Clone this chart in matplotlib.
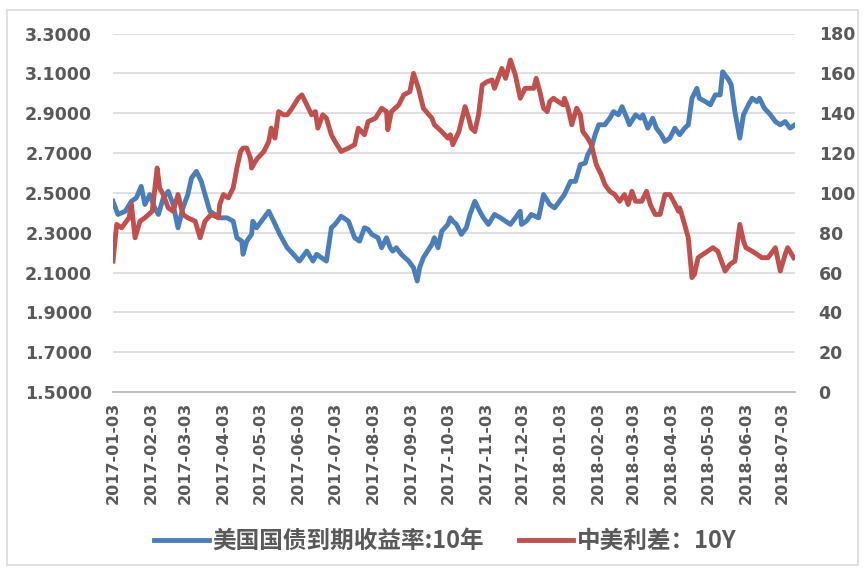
import matplotlib
matplotlib.use("Agg")
import matplotlib.pyplot as plt
from matplotlib.lines import Line2D
from matplotlib.patches import Rectangle
import pandas as pd

plt.rcParams['font.family'] = ['DejaVu Sans']

start = pd.Timestamp('2017-01-03')

# US 10Y treasury yield (%) : days since 2017-01-03 and values
us_days = [0, 4, 10, 15, 19, 23, 26, 30, 34, 37, 41, 45, 49, 53, 57, 61, 64, 68, 72, 75, 79, 83,
           87, 93, 98, 101, 105, 106, 109, 113, 114, 117, 121, 127, 131, 136, 142, 147, 152, 158, 163, 166, 174, 178,
           181, 186, 192, 197, 201, 205, 208, 211, 216, 219, 223, 226, 228, 231, 235, 241, 245, 248, 250, 253, 260, 262, 265, 268, 273,
           275, 277, 280, 284, 288, 291, 295, 299, 302, 306, 311, 316, 320, 324, 328, 332, 333, 337, 341, 347, 351, 356, 360, 364,
           368, 373, 377, 381, 385, 387, 390, 393, 396, 401, 405, 408, 412, 415, 419, 421, 426, 430, 432, 436, 440, 443, 447, 450, 454, 458,
           462, 466, 469, 472, 476, 478, 483, 487, 491, 495, 497, 502, 504, 507, 511, 514, 518, 521, 525, 527, 531, 536, 540, 544, 548, 552, 556]
us10y = [2.458, 2.392, 2.408, 2.458, 2.475, 2.533, 2.442, 2.492, 2.425, 2.392, 2.475, 2.508, 2.442, 2.325, 2.425, 2.492, 2.575, 2.608, 2.558, 2.492, 2.408, 2.392,
         2.375, 2.375, 2.358, 2.275, 2.258, 2.192, 2.258, 2.292, 2.358, 2.325, 2.358, 2.408, 2.358, 2.292, 2.225, 2.192, 2.158, 2.208, 2.158, 2.192, 2.158, 2.325,
         2.342, 2.383, 2.358, 2.275, 2.258, 2.325, 2.317, 2.292, 2.275, 2.225, 2.275, 2.225, 2.208, 2.225, 2.192, 2.158, 2.125, 2.058, 2.125, 2.175, 2.242, 2.275, 2.225, 2.308, 2.342,
         2.375, 2.358, 2.342, 2.292, 2.325, 2.392, 2.458, 2.408, 2.375, 2.342, 2.392, 2.375, 2.358, 2.342, 2.375, 2.408, 2.342, 2.358, 2.392, 2.375, 2.492, 2.442, 2.425, 2.458,
         2.492, 2.558, 2.558, 2.642, 2.650, 2.692, 2.725, 2.792, 2.842, 2.842, 2.875, 2.908, 2.892, 2.933, 2.875, 2.842, 2.892, 2.875, 2.892, 2.825, 2.875, 2.825, 2.792, 2.758, 2.775, 2.825,
         2.792, 2.825, 2.842, 2.975, 3.025, 2.975, 2.958, 2.942, 2.992, 2.992, 3.108, 3.067, 3.042, 2.908, 2.775, 2.892, 2.942, 2.975, 2.958, 2.975, 2.925, 2.892, 2.858, 2.842, 2.858, 2.825, 2.842]

# China-US 10Y spread (bp)
sp_days = [0, 3, 7, 13, 15, 18, 22, 26, 32, 36, 38, 41, 45, 49, 53, 57, 61, 67, 71, 75, 80, 86,
           87, 90, 94, 98, 101, 104, 106, 109, 112, 113, 116, 118, 123, 127, 129, 132, 135, 139, 142, 146, 151, 154, 158, 162, 165, 167, 171, 174, 178,
           181, 186, 192, 197, 200, 205, 208, 214, 219, 223, 224, 227, 233, 237, 242, 245, 249, 253, 260, 262, 268, 273,
           275, 277, 282, 284, 287, 290, 292, 295, 298, 301, 305, 309, 311, 314, 317, 320, 324, 328, 332, 336, 343, 345, 348, 351, 354, 356, 359, 363, 367,
           368, 371, 374, 378, 381, 383, 387, 390, 394, 398, 401, 405, 409, 413, 417, 420, 423, 426, 431, 435, 438, 442, 446, 450, 454, 457, 461,
           462, 466, 469, 472, 474, 477, 481, 485, 489, 493, 496, 499, 503, 507, 511, 514, 516, 521, 525, 529, 534, 540, 544, 548, 550, 555]
spread = [65.8, 84.2, 82.5, 87.5, 94.2, 77.5, 85.8, 87.5, 90.8, 112.5, 102.5, 99.2, 92.5, 90.8, 99.2, 89.2, 87.5, 85.8, 77.5, 85.8, 89.2, 87.5,
          94.2, 99.2, 97.5, 102.5, 112.5, 120.8, 122.5, 122.5, 117.5, 112.5, 115.8, 117.5, 120.8, 125.8, 132.5, 127.5, 140.8, 139.2, 139.2, 142.5, 147.5, 149.2, 144.2, 139.2, 140.8, 132.5, 139.2, 137.5, 129.2,
          125.8, 120.8, 122.5, 124.2, 132.5, 129.2, 135.8, 137.5, 142.5, 140.8, 131.7, 140.8, 144.2, 149.2, 150.8, 160.0, 152.5, 142.5, 137.5, 134.2, 130.8, 127.5,
          129.2, 124.2, 130.8, 135.8, 143.3, 137.5, 132.5, 130.8, 139.2, 154.2, 155.8, 156.7, 152.5, 157.5, 162.5, 157.5, 166.7, 159.2, 147.5, 152.5, 152.5, 157.5, 150.8, 142.5, 140.8, 145.8, 147.5, 145.8, 144.2,
          147.5, 142.5, 134.2, 142.5, 139.2, 130.8, 127.5, 124.2, 114.2, 109.2, 104.2, 100.8, 99.2, 95.8, 99.2, 94.2, 100.8, 95.8, 95.8, 100.8, 94.2, 89.2, 89.2, 99.2, 99.2, 95.8, 90.8,
          92.5, 84.2, 77.5, 57.5, 59.2, 67.5, 69.2, 70.8, 72.5, 70.8, 65.8, 60.8, 64.2, 65.8, 84.2, 75.8, 72.5, 70.8, 69.2, 67.5, 67.5, 72.5, 60.8, 69.2, 72.5, 67.5]

left_ticks = [1.5, 1.7, 1.9, 2.1, 2.3, 2.5, 2.7, 2.9, 3.1, 3.3]
right_ticks = [0, 20, 40, 60, 80, 100, 120, 140, 160, 180]
x_tick_labels = ['2017-01-03', '2017-02-03', '2017-03-03', '2017-04-03', '2017-05-03',
                 '2017-06-03', '2017-07-03', '2017-08-03', '2017-09-03', '2017-10-03',
                 '2017-11-03', '2017-12-03', '2018-01-03', '2018-02-03', '2018-03-03',
                 '2018-04-03', '2018-05-03', '2018-06-03', '2018-07-03']

name_us = '美国国债到期收益率:10年'
name_sp = '中美利差：10Y'

blue = '#4A7EBB'
red = '#C0504D'
txt = '#595959'
grid = '#D9D9D9'

us_dates = [start + pd.Timedelta(days=d) for d in us_days]
sp_dates = [start + pd.Timedelta(days=d) for d in sp_days]

fig = plt.figure(figsize=(8.64, 5.70), dpi=100)
fig.patches.append(Rectangle((7/864, 5/570), 851/864, 555/570, transform=fig.transFigure,
                             fill=False, edgecolor='#D9D9D9', linewidth=1.2))

ax = fig.add_axes([113/864, 177.8/570, 682/864, 358.7/570])
ax2 = ax.twinx()

ax.set_ylim(1.5, 3.3)
ax2.set_ylim(0, 180)
ax.set_yticks(left_ticks)
ax.set_yticklabels([f'{v:.4f}' for v in left_ticks])
ax2.set_yticks(right_ticks)
ax2.set_yticklabels([str(v) for v in right_ticks])

ax.set_xlim(start, start + pd.Timedelta(days=556))
ax.set_xticks([pd.Timestamp(s) for s in x_tick_labels])
ax.set_xticklabels(x_tick_labels, rotation=90)

ax.grid(axis='y', color=grid, linewidth=1.2)
ax.set_axisbelow(True)
for a in (ax, ax2):
    for s in ('top', 'left', 'right'):
        a.spines[s].set_visible(False)
    a.spines['bottom'].set_color('#BFBFBF')
    a.spines['bottom'].set_linewidth(1.2)

ax.tick_params(axis='y', length=0, pad=15, labelsize=12.5, labelcolor=txt)
ax2.tick_params(axis='y', length=0, pad=17, labelsize=12.5, labelcolor=txt)
ax.tick_params(axis='x', length=0, pad=7, labelsize=11.5, labelcolor=txt)
for lab in ax.get_yticklabels() + ax2.get_yticklabels() + ax.get_xticklabels():
    lab.set_fontweight('bold')

ax.plot(us_dates, us10y, color=blue, linewidth=3.5, solid_joinstyle='round', zorder=3)
ax2.plot(sp_dates, spread, color=red, linewidth=3.5, solid_joinstyle='round', zorder=3)

handles = [Line2D([], [], color=blue, linewidth=3.5),
           Line2D([], [], color=red, linewidth=3.5)]
fig.legend(handles, [name_us, name_sp], loc='center', bbox_to_anchor=(0.5156, 0.051),
           ncol=2, frameon=False, handlelength=2.3, handletextpad=0.15, columnspacing=1.5,
           prop={'family': ['Noto Sans CJK SC', 'DejaVu Sans'], 'size': 17, 'weight': 'bold'},
           labelcolor=txt)

fig.savefig('out.png', dpi=100)
